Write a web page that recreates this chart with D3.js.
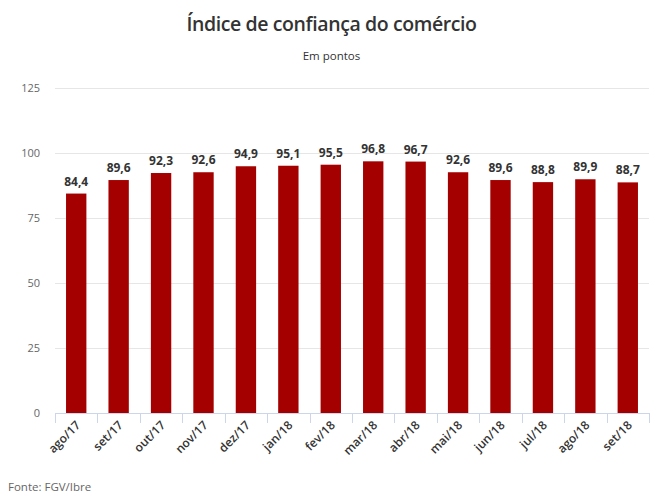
<!DOCTYPE html>
<html><head><meta charset="utf-8">
<script src="https://cdn.jsdelivr.net/npm/d3@7"></script>
<style>body{margin:0;background:#fff;font-family:"Open Sans",sans-serif;}</style>
</head><body><svg id="c" width="663" height="503"></svg>
<script>
const categories = ["ago/17","set/17","out/17","nov/17","dez/17","jan/18","fev/18","mar/18","abr/18","mai/18","jun/18","jul/18","ago/18","set/18"];
const values = [84.4,89.6,92.3,92.6,94.9,95.1,95.5,96.8,96.7,92.6,89.6,88.8,89.9,88.7];
const yTicks = [0,25,50,75,100,125];
const title = "Índice de confiança do comércio";
const subtitle = "Em pontos";
const source = "Fonte: FGV/Ibre";

const svg = d3.select("#c");
const m = {l:55, r:14, t:88, b:90};
const W = 663, H = 503;
const x = d3.scaleBand().domain(categories).range([m.l, W - m.r]).paddingInner(0.52).paddingOuter(0.26);
const y = d3.scaleLinear().domain([0,125]).range([413, 88]);

svg.append("text").attr("x", W/2).attr("y", 31).attr("text-anchor","middle")
  .attr("font-size", 19.5).attr("font-weight", 600).attr("fill","#333").attr("letter-spacing","-0.4").text(title);
svg.append("text").attr("x", W/2).attr("y", 60).attr("text-anchor","middle")
  .attr("font-size", 11.5).attr("fill","#333").text(subtitle);

// grid
svg.append("g").selectAll("line").data(yTicks.filter(d=>d>0)).join("line")
  .attr("x1", m.l).attr("x2", W - m.r).attr("y1", d=>y(d)+0.5).attr("y2", d=>y(d)+0.5)
  .attr("stroke","#e6e6e6");
svg.append("g").selectAll("text").data(yTicks).join("text")
  .attr("x", 40).attr("y", d=>y(d)+4).attr("text-anchor","end")
  .attr("font-size", 11).attr("fill","#666").text(d=>d);

// bars
svg.append("g").selectAll("rect").data(values).join("rect")
  .attr("x", (d,i)=>x(categories[i])).attr("width", x.bandwidth())
  .attr("y", d=>y(d)).attr("height", d=>y(0)-y(d)).attr("fill","#a50000");

svg.append("g").selectAll("text").data(values).join("text")
  .attr("x", (d,i)=>x(categories[i]) + x.bandwidth()/2).attr("y", d=>y(d)-8)
  .attr("text-anchor","middle").attr("font-size", 12).attr("font-weight", 700).attr("fill","#333")
  .text(d=>d.toFixed(1).replace(".",","));

// x axis
const step = x.step();
const ax = svg.append("g");
ax.append("line").attr("x1", m.l).attr("x2", W - m.r).attr("y1", 413.5).attr("y2", 413.5).attr("stroke","#ccd6eb");
const bounds = categories.map(c => x(c) - (step - x.bandwidth())/2).concat([W - m.r]);
ax.selectAll("line.t").data(bounds).join("line").attr("class","t")
  .attr("x1", d=>Math.round(d)+0.5).attr("x2", d=>Math.round(d)+0.5).attr("y1", 413).attr("y2", 423).attr("stroke","#ccd6eb");
ax.selectAll("text").data(categories).join("text")
  .attr("transform", d=>`translate(${x(d)+x.bandwidth()/2+5},${426}) rotate(-45)`)
  .attr("text-anchor","end").attr("font-size", 12).attr("font-weight", 600).attr("fill","#333").text(d=>d);

svg.append("text").attr("x", 8).attr("y", 491).attr("font-size", 11.5).attr("fill","#666").text(source);
</script></body></html>
